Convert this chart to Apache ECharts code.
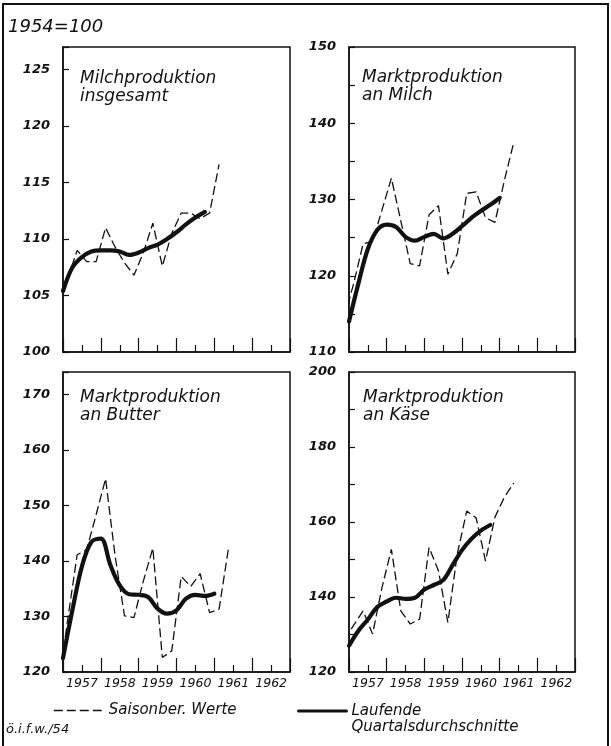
<!DOCTYPE html>
<html>
<head>
<meta charset="utf-8">
<script src="https://cdn.jsdelivr.net/npm/echarts@6/dist/echarts.min.js"></script>
<style>
html,body{margin:0;padding:0;background:#fff;}
#chart{width:611px;height:746px;}
</style>
</head>
<body>
<div id="chart"></div>
<script>
// ---- data (index 1954 = 100) ----
// seasonally adjusted quarterly values (plotted at quarter middles)
const seasonQuarters = ['1956-IV','1957-I','1957-II','1957-III','1957-IV','1958-I','1958-II','1958-III','1958-IV',
  '1959-I','1959-II','1959-III','1959-IV','1960-I','1960-II','1960-III','1960-IV','1961-I','1961-II'];
// running 4-quarter averages (plotted at the centre of each window, i.e. quarter boundaries)
const averageDates = ['1957-01','1957-04','1957-07','1957-10','1958-01','1958-04','1958-07','1958-10',
  '1959-01','1959-04','1959-07','1959-10','1960-01','1960-04','1960-07','1960-10','1961-01'];

const milchSaison = [104.3,106.5,109.0,108.0,108.0,111.0,109.3,107.9,106.8,108.8,111.4,107.6,110.5,112.3,112.3,111.8,112.3,116.6,null];
const milchAvg    = [105.4,107.5,108.4,108.9,109.0,109.0,108.9,108.6,108.8,109.2,109.5,110.0,110.6,111.3,111.9,112.4,null];

const marktMilchSaison = [114.5,119.0,124.2,124.5,128.6,132.8,127.2,121.6,121.3,128.0,129.2,120.2,122.9,130.8,131.0,127.6,127.0,132.5,137.5];
const marktMilchAvg    = [114.0,119.0,123.5,126.0,126.7,126.4,125.1,124.6,125.1,125.5,124.9,125.5,126.5,127.6,128.5,129.3,130.2];

const butterSaison = [117.0,129.5,141.1,142.0,148.3,154.8,141.0,130.1,129.8,136.4,142.3,122.6,123.8,137.2,135.4,137.7,130.7,131.3,142.3];
const butterAvg    = [122.5,131.2,139.0,143.4,144.0,139.3,135.6,134.0,133.9,133.5,131.4,130.5,131.1,133.2,133.9,133.7,134.1];

const kaeseSaison = [128.5,132.5,136.3,130.1,142.5,152.7,136.3,132.8,134.1,153.2,147.0,133.2,151.5,162.9,161.1,149.6,161.3,166.6,170.4];
const kaeseAvg    = [127.0,131.0,134.0,137.3,138.8,139.8,139.5,139.8,142.0,143.2,144.5,148.5,152.5,155.5,157.7,159.2,null];

const yearLabels = ['1957','1958','1959','1960','1961','1962'];
const panelTitles = ['Milchproduktion\ninsgesamt','Marktproduktion\nan Milch','Marktproduktion\nan Butter','Marktproduktion\nan Käse'];
const yScales = [ // min, max, tick step, label step
  [100,127,5,5],[110,150,5,10],[120,174,10,10],[120,200,10,20]
];
const seriesSaisonName = 'Saisonber. Werte';
const seriesAvgName = 'Laufende Quartalsdurchschnitte';
const baseLabel = '1954=100';
const sourceLabel = 'ö.i.f.w./54';

// ---- helpers ----
const QN = {I:1,II:2,III:3,IV:4};
function quarterX(l){const p=l.split('-');return +p[0]+(QN[p[1]]-0.5)/4;}
function boundaryX(l){const p=l.split('-');return +p[0]+(+p[1]-1)/12;}
function pairs(labels, fn, vals){return labels.map((l,i)=>[fn(l), vals[i]]);}

const FONT = 'DejaVu Sans';
const INK = '#111';

const grids = [
  {left:63, top:47, width:227, height:305},
  {left:349, top:47, width:226, height:305},
  {left:63, top:372, width:227, height:300},
  {left:349, top:372, width:226, height:300}
].map(g=>Object.assign({show:true, borderColor:INK, borderWidth:1.5, backgroundColor:'transparent', containLabel:false, outerBoundsMode:'none'}, g));

const xAxes = grids.map((g,i)=>({
  type:'value', gridIndex:i, min:1957, max:1963, interval:1,
  axisLine:{show:true, onZero:false, lineStyle:{color:INK, width:1.5}},
  axisTick:{show:true, inside:true, length:14, lineStyle:{color:INK, width:1.2}},
  minorTick:{show:true, splitNumber:2, length:7, lineStyle:{color:INK, width:1.2}},
  splitLine:{show:false}, minorSplitLine:{show:false},
  axisLabel:{show:i>=2, margin:5, color:INK, fontFamily:FONT, fontStyle:'italic', fontSize:12.5,
    padding:[0,0,0,38],
    formatter:v=>{const s=String(Math.round(v));return yearLabels.indexOf(s)>=0?s:'';}}
}));

const yAxes = grids.map((g,i)=>{
  const [mn,mx,step,lab]=yScales[i];
  return {
    type:'value', gridIndex:i, min:mn, max:mx, interval:step,
    axisLine:{show:true, lineStyle:{color:INK, width:1.5}},
    axisTick:{show:true, inside:true, length:6, lineStyle:{color:INK, width:1.2}},
    splitLine:{show:false},
    axisLabel:{margin:13, color:INK, fontFamily:FONT, fontStyle:'italic', fontWeight:'bold', fontSize:13,
      showMaxLabel:true, showMinLabel:true,
      formatter:v=>(Math.abs(v%lab)<1e-6)? String(v):''}
  };
});

const saisonData = [milchSaison, marktMilchSaison, butterSaison, kaeseSaison];
const avgData = [milchAvg, marktMilchAvg, butterAvg, kaeseAvg];
const series = [];
for(let i=0;i<4;i++){
  series.push({
    name:seriesSaisonName, type:'line', xAxisIndex:i, yAxisIndex:i,
    data:pairs(seasonQuarters, quarterX, saisonData[i]),
    showSymbol:false, symbol:'none', connectNulls:false, clip:true,
    lineStyle:{color:INK, width:1.3, type:[9,4]}, itemStyle:{color:INK}, z:2
  });
  series.push({
    name:seriesAvgName, type:'line', xAxisIndex:i, yAxisIndex:i,
    data:pairs(averageDates, boundaryX, avgData[i]),
    showSymbol:false, symbol:'none', smooth:0.35, clip:true,
    lineStyle:{color:INK, width:4.2, cap:'round', join:'round'}, itemStyle:{color:INK}, z:3
  });
}

const titlePos = [[80,70],[362,69],[80,389],[363,389]];
const titles = panelTitles.map((t,i)=>({
  text:t, left:titlePos[i][0], top:titlePos[i][1], padding:0,
  textStyle:{fontFamily:FONT, fontStyle:'italic', fontWeight:'normal', fontSize:17, lineHeight:18, color:INK}
}));

const legendText = {fontFamily:FONT, fontStyle:'italic', fontSize:15, color:INK};
const option = {
  animation:false,
  backgroundColor:'#fff',
  title:titles,
  grid:grids,
  xAxis:xAxes,
  yAxis:yAxes,
  series:series,
  legend:[
    {data:[seriesSaisonName], left:53, top:703, padding:0, itemWidth:50, itemHeight:14, itemGap:4, selectedMode:false,
      itemStyle:{opacity:0}, lineStyle:{width:1.5},
      textStyle:legendText},
    {data:[seriesAvgName], left:297, top:687, padding:0, itemWidth:48, itemHeight:14, itemGap:5, selectedMode:false,
      itemStyle:{opacity:0}, lineStyle:{width:3},
      formatter:n=>'\n'+n.replace(' ','\n'),
      textStyle:Object.assign({lineHeight:16}, legendText)}
  ],
  graphic:[
    {type:'polyline', shape:{points:[[3,746],[3,4],[608,4],[608,746]]}, style:{fill:null, stroke:INK, lineWidth:2}, silent:true},
    {type:'text', left:8, top:18, style:{text:baseLabel, fontFamily:FONT, fontStyle:'italic', fontSize:18, fill:INK}},
    {type:'text', left:6, top:723, style:{text:sourceLabel, fontFamily:FONT, fontStyle:'italic', fontSize:13, fill:INK}}
  ]
};

const chart = echarts.init(document.getElementById('chart'), null, {renderer:'canvas'});
chart.setOption(option);
</script>
</body>
</html>
